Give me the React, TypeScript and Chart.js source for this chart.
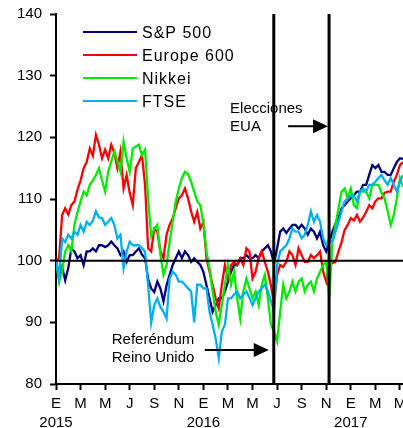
import React, { useEffect, useRef } from 'react';
import { Chart, registerables } from 'chart.js';

Chart.register(...registerables);

const FONT = "'Liberation Sans', Arial, Helvetica, sans-serif";

// Weekly observations, x = months since 1 Jan 2015 (one point per week)
const weekMonths: number[] = Array.from({ length: 114 }, (_, i) => i / 4);

const seriesLabels = ['S&P 500', 'Europe 600', 'Nikkei', 'FTSE'];
const seriesColors = ['#000080', '#FF0000', '#00EE00', '#00B0F0'];

const sp500 = [
  100, 97.5, 99.0, 96.8, 98.8, 102.0, 101.5, 100.4, 100.9, 99.3,
  101.5, 101.5, 102.0, 101.5, 102.5, 102.5, 102.2, 102.5, 103.1, 102.5,
  102.0, 100.9, 101.5, 99.8, 100.9, 100.9, 101.5, 102.0, 101.0, 100.4,
  97.0, 95.5, 94.9, 96.6, 95.5, 93.4, 96.0, 97.7, 99.3, 100.4,
  101.5, 100.4, 101.5, 100.9, 99.8, 100.4, 99.8, 99.3, 98.2, 96.0,
  93.9, 91.7, 92.8, 93.9, 93.9, 95.0, 96.6, 98.2, 99.3, 99.3,
  100.4, 100.4, 100.9, 100.4, 100.4, 100.9, 100.4, 101.5, 102.0, 102.5,
  101.5, 99.5, 102.0, 104.7, 105.2, 104.5, 105.2, 105.8, 105.8, 105.2,
  105.8, 105.2, 104.2, 105.2, 104.7, 103.6, 104.7, 102.5, 101.5, 103.0,
  104.7, 106.0, 106.9, 108.5, 109.0, 109.6, 110.1, 110.6, 111.2, 111.2,
  112.3, 112.3, 113.9, 115.5, 115.0, 115.5, 114.4, 114.4, 113.9, 113.9,
  115.0, 116.0, 116.6, 116.5,
];

const europe600 = [
  100, 100.4, 107.4, 108.5, 107.5, 109.0, 109.6, 111.5, 113.0, 115.0,
  116.0, 118.2, 117.0, 120.4, 118.8, 116.6, 118.0, 116.6, 118.8, 117.5,
  115.0, 117.7, 111.7, 113.9, 111.0, 109.0, 115.0, 116.0, 117.1, 112.3,
  102.0, 101.5, 105.2, 104.7, 101.5, 100.4, 104.2, 105.8, 106.9, 108.5,
  110.1, 110.6, 111.7, 110.1, 108.0, 106.3, 107.9, 105.2, 106.3, 100.4,
  98.2, 96.1, 93.9, 92.3, 96.1, 99.3, 97.1, 99.3, 99.8, 99.3,
  100.4, 99.3, 102.0, 101.5, 97.1, 98.2, 100.4, 101.5, 99.8, 98.2,
  96.0, 93.0, 97.7, 99.3, 99.0, 99.8, 101.5, 100.9, 99.3, 102.0,
  100.9, 99.8, 99.8, 100.9, 100.4, 100.9, 101.5, 98.2, 96.6, 99.3,
  99.6, 99.8, 101.5, 103.0, 105.0, 105.8, 106.9, 106.5, 107.4, 106.3,
  107.0, 107.9, 109.0, 108.5, 109.6, 110.1, 110.1, 111.0, 111.2, 111.2,
  112.8, 113.9, 115.5, 116.0,
];

const nikkei = [
  100, 96.6, 98.2, 101.5, 102.5, 101.5, 105.8, 107.9, 109.6, 111.2,
  110.6, 112.3, 113.0, 113.9, 115.0, 113.0, 111.2, 114.4, 116.1, 117.7,
  116.1, 114.4, 119.3, 116.6, 114.4, 118.2, 118.5, 118.8, 117.1, 118.0,
  110.0, 104.0, 105.2, 105.8, 101.0, 97.7, 99.3, 103.0, 106.3, 109.6,
  111.7, 113.4, 114.4, 114.0, 112.8, 111.2, 109.6, 109.0, 106.0, 101.5,
  98.8, 95.0, 91.7, 89.6, 92.8, 96.1, 99.3, 96.1, 98.2, 93.9,
  90.6, 95.0, 97.1, 95.5, 93.9, 95.0, 92.8, 96.1, 97.7, 93.9,
  89.6, 88.5, 86.9, 91.7, 96.1, 93.9, 95.0, 96.6, 95.0, 96.6,
  97.1, 95.0, 96.1, 96.6, 95.0, 97.1, 98.2, 99.3, 99.8, 94.0,
  103.0, 105.8, 108.5, 111.2, 111.7, 110.1, 111.7, 109.0, 108.5, 111.2,
  111.2, 111.2, 110.1, 112.3, 112.3, 112.3, 111.0, 110.1, 108.0, 105.8,
  107.4, 110.1, 113.4, 112.0,
];

const ftse = [
  100, 97.1, 103.6, 103.0, 104.2, 103.6, 104.7, 104.2, 105.8, 104.7,
  106.3, 105.8, 106.5, 108.0, 107.0, 106.9, 105.8, 106.3, 106.9, 105.8,
  103.6, 104.2, 98.8, 101.5, 103.1, 102.5, 102.5, 102.5, 102.0, 101.5,
  96.0, 89.9, 92.8, 93.9, 92.5, 91.7, 90.6, 97.1, 98.2, 97.7,
  96.6, 96.6, 96.1, 95.5, 95.0, 90.0, 96.1, 96.1, 95.5, 95.5,
  91.7, 89.6, 87.4, 84.2, 88.5, 89.6, 93.9, 93.9, 94.5, 95.0,
  93.9, 94.5, 95.0, 94.0, 92.8, 93.9, 95.0, 95.5, 96.1, 95.0,
  93.5, 91.7, 99.3, 101.5, 102.0, 102.5, 103.6, 105.2, 104.7, 104.7,
  103.6, 104.2, 105.8, 108.0, 106.3, 107.4, 106.3, 103.6, 102.5, 103.6,
  103.1, 104.7, 106.3, 108.0, 109.6, 110.1, 110.6, 110.6, 109.6, 111.2,
  111.7, 111.2, 112.3, 112.3, 112.8, 113.4, 113.9, 113.0, 112.3, 113.4,
  112.3, 111.2, 112.8, 113.9,
];

const seriesValues = [sp500, europe600, nikkei, ftse];

const monthLetters = ['E', 'M', 'M', 'J', 'S', 'N'];
const yearLabels = ['2015', '2016', '2017'];

const baseLevel = 100;
const brexitMonth = 17.73; // 23 jun 2016
const electionMonth = 22.23; // 8 nov 2016
const electionText = ['Elecciones', 'EUA'];
const brexitText = ['Referéndum', 'Reino Unido'];

function drawArrow(ctx: CanvasRenderingContext2D, x1: number, x2: number, y: number) {
  const head = 15;
  ctx.beginPath();
  ctx.moveTo(x1, y);
  ctx.lineTo(x2 - head + 1, y);
  ctx.lineWidth = 2;
  ctx.stroke();
  ctx.beginPath();
  ctx.moveTo(x2, y);
  ctx.lineTo(x2 - head, y - 7);
  ctx.lineTo(x2 - head, y + 7);
  ctx.closePath();
  ctx.fill();
}

const eventPlugin = {
  id: 'events',
  afterDatasetsDraw(chart: any) {
    const { ctx, chartArea, scales } = chart;
    const x = scales.x;
    const y = scales.y;
    ctx.save();
    ctx.strokeStyle = '#000';
    ctx.fillStyle = '#000';
    const y100 = y.getPixelForValue(baseLevel);
    ctx.lineWidth = 2;
    ctx.beginPath();
    ctx.moveTo(chartArea.left, y100);
    ctx.lineTo(chartArea.right, y100);
    ctx.stroke();
    ctx.lineWidth = 3;
    for (const m of [brexitMonth, electionMonth]) {
      const px = x.getPixelForValue(m);
      ctx.beginPath();
      ctx.moveTo(px, chartArea.top);
      ctx.lineTo(px, chartArea.bottom);
      ctx.stroke();
    }
    ctx.font = `15px ${FONT}`;
    ctx.textBaseline = 'alphabetic';
    ctx.textAlign = 'left';
    const ex = x.getPixelForValue(electionMonth);
    const ey = y.getPixelForValue(124);
    ctx.fillText(electionText[0], ex - 99, ey);
    ctx.fillText(electionText[1], ex - 99, ey + 18);
    drawArrow(ctx, ex - 41, ex - 1, y.getPixelForValue(121.8));
    const bx = x.getPixelForValue(brexitMonth);
    const by = y.getPixelForValue(86.5);
    ctx.fillText(brexitText[0], bx - 162, by);
    ctx.fillText(brexitText[1], bx - 162, by + 18);
    drawArrow(ctx, bx - 69, bx - 5, y.getPixelForValue(85.5));
    ctx.restore();
  },
};

const legendPlugin = {
  id: 'insideLegend',
  afterDraw(chart: any) {
    const { ctx } = chart;
    ctx.save();
    chart.data.datasets.forEach((ds: any, i: number) => {
      const yy = 32 + i * 23;
      ctx.strokeStyle = ds.borderColor;
      ctx.lineWidth = 2;
      ctx.beginPath();
      ctx.moveTo(83, yy);
      ctx.lineTo(137, yy);
      ctx.stroke();
      ctx.fillStyle = '#000';
      ctx.font = `16px ${FONT}`;
      (ctx as any).letterSpacing = '1px';
      ctx.textBaseline = 'alphabetic';
      ctx.textAlign = 'left';
      ctx.fillText(ds.label, 142, yy + 5.5);
    });
    ctx.restore();
  },
};

export default function App() {
  const ref = useRef<HTMLCanvasElement>(null);
  useEffect(() => {
    if (!ref.current) return;
    const orders = [3, 2, 1, 0];
    const chart = new Chart(ref.current, {
      type: 'line',
      data: {
        datasets: seriesLabels.map((label, k) => ({
          label,
          data: weekMonths.map((m, i) => ({ x: m, y: seriesValues[k][i] })),
          borderColor: seriesColors[k],
          backgroundColor: seriesColors[k],
          borderWidth: 2.3,
          pointRadius: 0,
          tension: 0,
          fill: false,
          order: orders[k],
        })),
      },
      options: {
        responsive: false,
        animation: false,
        layout: { padding: { top: 14, left: 0, right: 0, bottom: 0 } },
        plugins: { legend: { display: false }, tooltip: { enabled: false } },
        scales: {
          x: {
            type: 'linear',
            min: 0,
            max: 28.25,
            afterFit: (s: any) => {
              s.height = 44;
              s.paddingLeft = 0;
              s.paddingRight = 0;
            },
            ticks: {
              stepSize: 2,
              includeBounds: false,
              autoSkip: false,
              maxRotation: 0,
              minRotation: 0,
              padding: 4,
              color: '#000',
              font: { family: FONT, size: 15, lineHeight: 1.3 },
              callback: (v: any) => {
                const n = Number(v);
                const letter = monthLetters[Math.round(n / 2) % 6];
                if (n % 12 === 0) return [letter, yearLabels[n / 12]];
                return letter;
              },
            },
            grid: { drawOnChartArea: false, drawTicks: true, tickLength: 6, tickWidth: 2, tickColor: '#000' },
            border: { display: true, color: '#000', width: 2 },
          },
          y: {
            min: 80,
            max: 140,
            afterFit: (s: any) => {
              s.width = 56;
              s.paddingTop = 0;
              s.paddingBottom = 0;
            },
            ticks: {
              stepSize: 10,
              padding: 8,
              color: '#000',
              font: { family: FONT, size: 15 },
            },
            grid: { drawOnChartArea: false, drawTicks: true, tickLength: 6, tickWidth: 2, tickColor: '#000' },
            border: { display: true, color: '#000', width: 2 },
          },
        },
      },
      plugins: [eventPlugin, legendPlugin],
    } as any);
    return () => chart.destroy();
  }, []);
  return (
    <div style={{ position: 'fixed', left: 0, top: 0, width: 403, height: 428, background: '#fff' }}>
      <canvas ref={ref} width={403} height={428} />
    </div>
  );
}
